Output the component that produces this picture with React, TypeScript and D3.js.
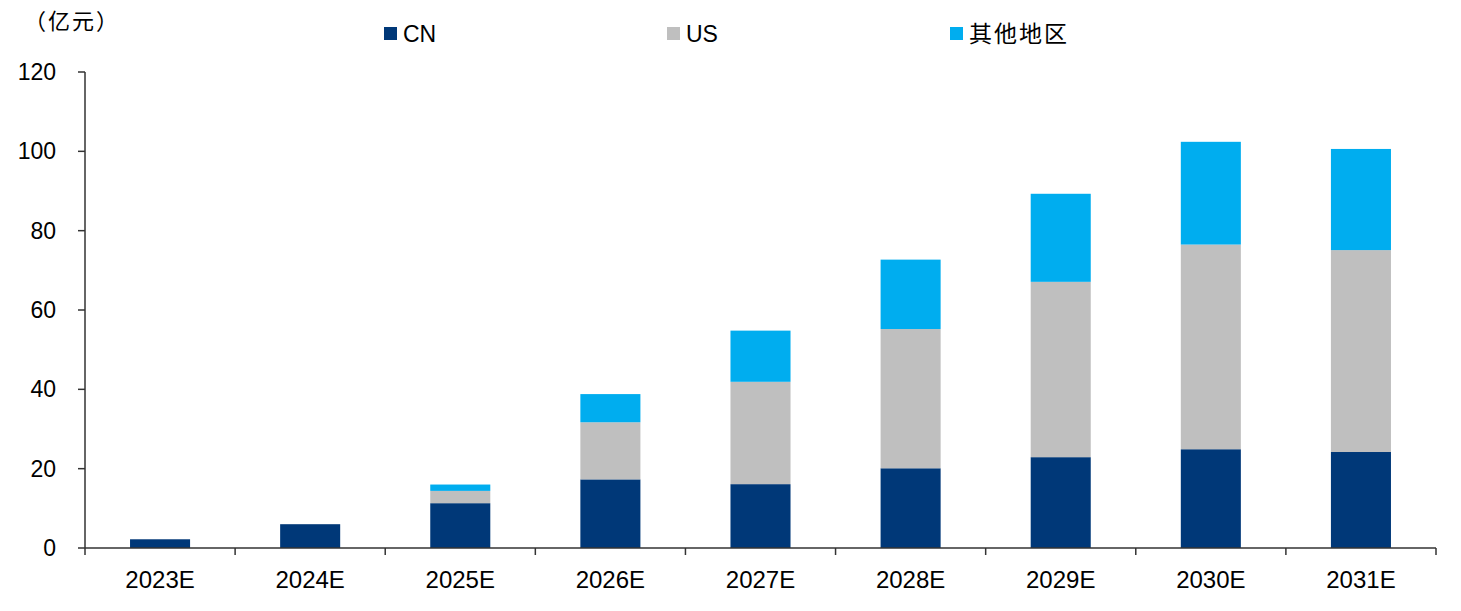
import * as d3 from 'd3';

const categories = ['2023E', '2024E', '2025E', '2026E', '2027E', '2028E', '2029E', '2030E', '2031E'];
const cnValues = [2.2, 6.0, 11.3, 17.3, 16.1, 20.1, 22.9, 24.9, 24.2];
const usValues = [0, 0, 3.1, 14.4, 25.8, 35.1, 44.2, 51.6, 50.9];
const otherValues = [0, 0, 1.6, 7.1, 12.9, 17.5, 22.2, 25.9, 25.5];
const yTicks = [0, 20, 40, 60, 80, 100, 120];

const seriesNames = ['CN', 'US', '其他地区'];
const colors = ['#003878', '#bfbfbf', '#00adef'];

const W = 1461;
const H = 611;
const margin = { top: 72, right: 25, bottom: 63, left: 85 };
const font = '"Liberation Sans", Arial, sans-serif';
const cjk = '"Noto Sans CJK SC", sans-serif';

export default function App() {
  const iW = W - margin.left - margin.right;
  const iH = H - margin.top - margin.bottom;

  const x = d3.scaleBand().domain(categories).range([0, iW]).paddingInner(0.6).paddingOuter(0.3);
  const y = d3.scaleLinear().domain([0, 120]).range([iH, 0]);
  const step = x.step();

  const rows = categories.map((c, i) => ({ cat: c, CN: cnValues[i], US: usValues[i], 其他地区: otherValues[i] }));
  const stacked = d3.stack<any>().keys(seriesNames)(rows);

  const legendX = [384, 667, 950];

  return (
    <svg width={W} height={H} style={{ position: 'absolute', left: 0, top: 0, background: '#fff' }}>
      <text x={24} y={29} fontFamily={cjk} fontSize={22} letterSpacing={2} fill="#000">（亿元）</text>

      {seriesNames.map((s, i) => (
        <g key={s} transform={`translate(${legendX[i]},0)`}>
          <rect x={0} y={27} width={13} height={13} fill={colors[i]} />
          <text
            x={19}
            y={42}
            fontFamily={i === 2 ? cjk : font}
            fontSize={i === 2 ? 23 : 23}
            letterSpacing={i === 2 ? 2 : 0}
            fill="#000"
          >
            {s}
          </text>
        </g>
      ))}

      <g transform={`translate(${margin.left},${margin.top})`}>
        {stacked.map((layer, li) => (
          <g key={layer.key} fill={colors[li]}>
            {layer.map((d, i) =>
              d[1] - d[0] > 0 ? (
                <rect
                  key={i}
                  x={x(categories[i])!}
                  width={x.bandwidth()}
                  y={y(d[1])}
                  height={y(d[0]) - y(d[1])}
                />
              ) : null
            )}
          </g>
        ))}

        {/* y axis */}
        <line x1={0} x2={0} y1={0} y2={iH} stroke="#333" strokeWidth={1.5} />
        {yTicks.map((t) => (
          <g key={t} transform={`translate(0,${y(t)})`}>
            <line x1={-7} x2={0} stroke="#333" strokeWidth={1.5} />
            <text x={-29} dy="0.35em" textAnchor="end" fontFamily={font} fontSize={23} fill="#000">
              {t}
            </text>
          </g>
        ))}

        {/* x axis */}
        <line x1={0} x2={iW} y1={iH} y2={iH} stroke="#333" strokeWidth={1.5} />
        {d3.range(categories.length + 1).map((i) => (
          <line key={i} x1={i * step} x2={i * step} y1={iH} y2={iH + 7} stroke="#333" strokeWidth={1.5} />
        ))}
        {categories.map((c) => (
          <text
            key={c}
            x={x(c)! + x.bandwidth() / 2}
            y={iH + 40}
            textAnchor="middle"
            fontFamily={font}
            fontSize={24}
            fill="#000"
          >
            {c}
          </text>
        ))}
      </g>
    </svg>
  );
}
